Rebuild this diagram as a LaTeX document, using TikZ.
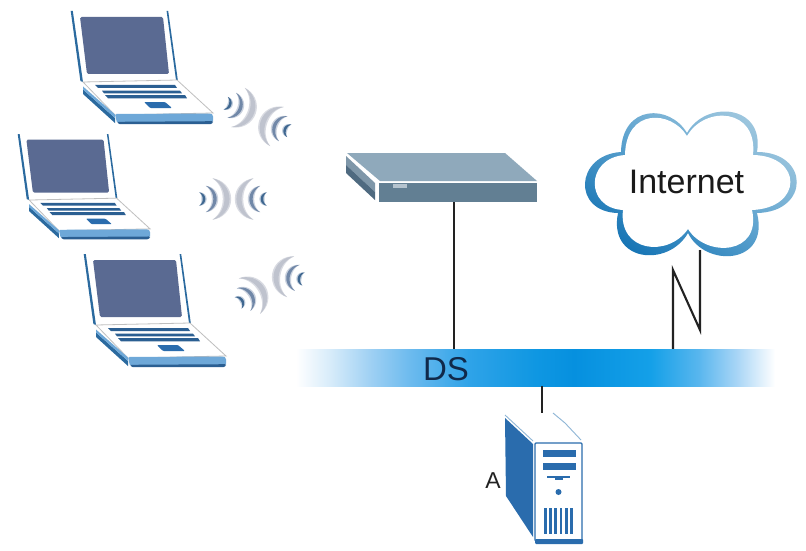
\documentclass[tikz,border=0pt]{standalone}
\usepackage{fontspec}
\setmainfont{Liberation Sans}
\definecolor{lapblue}{HTML}{2B6A9F}
\definecolor{lapkey}{HTML}{2B5F92}
\definecolor{lapscreen}{HTML}{5A6A92}
\definecolor{lapfront}{HTML}{6EA8D8}
\definecolor{srvblue}{HTML}{2A6CAD}
\definecolor{wire}{HTML}{222222}
\newcommand\hexcolor[1]{\definecolor{H#1}{HTML}{#1}}
\hexcolor{D8ECFA}\hexcolor{9CCFF3}\hexcolor{6BBAEE}\hexcolor{2FA3E8}\hexcolor{0F97E2}\hexcolor{0690DF}
\hexcolor{14A0E8}\hexcolor{58B6EE}\hexcolor{A8D5F6}\hexcolor{D9DBE2}\hexcolor{BFC3CE}\hexcolor{CCD3DF}
\hexcolor{7188A8}\hexcolor{C2CEDD}\hexcolor{3F6790}\hexcolor{10294A}\hexcolor{8FA9BB}\hexcolor{627F93}
\hexcolor{7F97A9}\hexcolor{4F6A80}\hexcolor{B4C3CE}\hexcolor{0F70B2}\hexcolor{5EA3CF}\hexcolor{7FB6D6}
\hexcolor{A6CBE0}\hexcolor{1A1A1A}\hexcolor{8FB6D6}
\pgfdeclarehorizontalshading{dsband}{100bp}{
 color(0bp)=(white); color(25bp)=(white);
 color(28.5bp)=(HD8ECFA);
 color(33bp)=(H9CCFF3);
 color(37bp)=(H6BBAEE);
 color(43bp)=(H2FA3E8);
 color(50bp)=(H0F97E2);
 color(54bp)=(H0690DF);
 color(62bp)=(H14A0E8);
 color(67bp)=(H58B6EE);
 color(71bp)=(HA8D5F6);
 color(75bp)=(white); color(100bp)=(white)}
\tikzset{
  wireline/.style={draw=wire,line width=2.4pt},
  nline/.style={draw=wire,line width=2.1pt,line join=miter},
  labeltext/.style={inner sep=0pt,text=#1},
  labeltext/.default=black,
  laptop/.pic={
    \fill[lapblue] (-.3,0) -- (1.8,0) -- (12,71) -- (9.4,70) -- cycle;
    \fill[lapblue] (95.6,0) -- (97.2,0) -- (106.8,69) -- (105,69) -- cycle;
    \fill[lapscreen,rounded corners=1.5pt] (9,6) -- (92,6) -- (98,63) -- (16,63) -- cycle;
    \filldraw[fill=white,draw=gray!50,line width=.8pt] (12,71) -- (106,69) -- (142,102) -- (44,104) -- cycle;
    \fill[lapblue] (12,78.5) -- (44,107) -- (44,112) -- (12,83) -- cycle;
    \fill[lapfront] (12,75.5) -- (44,103.5) -- (44,107) -- (12,78.5) -- cycle;
    \fill[lapfront,rounded corners=1.5pt] (44,103) -- (140,102.5) -- (142,104) -- (142,111) -- (46,112) -- cycle;
    \fill[lapkey,rounded corners=1pt] (46,110.8) -- (142,110.2) -- (142,111.5) -- (140,113.2) -- (48,113.2) -- cycle;
    \fill[lapkey] (24,74) -- (104,74) -- (106,77) -- (27,77) -- cycle;
    \fill[lapkey] (31,79.7) -- (109,79.7) -- (111,82.3) -- (33,82.3) -- cycle;
    \fill[lapkey] (34,84) -- (114,84) -- (116,87.3) -- (37,87.3) -- cycle;
    \fill[srvblue,rounded corners=1pt] (73,91) -- (94,91) -- (101,97) -- (79,97) -- cycle;
  }
}
% one tapered arc: centre x, centre y, rotation, offset, radius, half width, fill options
\newcommand\wavecrescent[7]{%
  \fill[#7] plot[domain=-70:70,samples=17,variable=\t]
    ({#1+#4*cos(#3)+(#5+#6*cos(1.2857*\t))*cos(\t+#3)},{#2+#4*sin(#3)+(#5+#6*cos(1.2857*\t))*sin(\t+#3)})
    -- plot[domain=70:-70,samples=17,variable=\t]
    ({#1+#4*cos(#3)+(#5-#6*cos(1.2857*\t))*cos(\t+#3)},{#2+#4*sin(#3)+(#5-#6*cos(1.2857*\t))*sin(\t+#3)})
    -- cycle;}
\newcommand\wavefan[3]{%
  \wavecrescent{#1}{#2}{#3}{0}{22}{4.2}{color=HD9DBE2}%
  \wavecrescent{#1}{#2}{#3}{0}{22}{2.6}{color=HBFC3CE}%
  \wavecrescent{#1}{#2}{#3}{-4}{14}{3.2}{color=HCCD3DF}%
  \wavecrescent{#1}{#2}{#3}{-4}{14}{1.7}{color=H7188A8}%
  \wavecrescent{#1}{#2}{#3}{-8}{7}{2.6}{color=HC2CEDD}%
  \wavecrescent{#1}{#2}{#3}{-8}{7}{1.3}{color=H3F6790}}
\begin{document}
\begin{tikzpicture}[x=1pt,y=-1pt]
\useasboundingbox (0,0) rectangle (806,551);
\fill[white] (0,0) rectangle (806,551);

% laptops
\pic (lapa) at (71,11) {laptop};
\pic[scale=.93] (lapb) at (18,134) {laptop};
\pic (lapc) at (84,254) {laptop};

% radio waves
\wavefan{231}{105}{19}
\wavefan{284}{129}{199}
\wavefan{205}{199}{0}
\wavefan{261}{199}{180}
\wavefan{243}{300}{-31}
\wavefan{298}{278}{190}

% distribution system band
\node[shading=dsband,minimum width=479pt,minimum height=37pt,inner sep=0pt] (band) at (535.5,367.5) {};
\node[labeltext=H10294A,font=\fontsize{33}{33}\selectfont] (dslabel) at (446,369) {DS};

% router
\fill[H8FA9BB] (347,153) -- (505,153) -- (537,181) -- (380,181) -- cycle;
\fill[H627F93] (379,183) -- (537,183) -- (537,202) -- (379,202) -- cycle;
\fill[H7F97A9] (346,156) -- (375,183) -- (375,192) -- (346,165) -- cycle;
\fill[H4F6A80] (346,165) -- (375,192) -- (375,200) -- (346,173) -- cycle;
\fill[HB4C3CE] (393,184) rectangle (407,188);
\coordinate (routerport) at (454,202);
\draw[wireline] (routerport) -- (routerport |- band.north);

% cloud
\shade[top color=HA6CBE0,bottom color=H0F70B2,middle color=H5EA3CF,shading angle=-35]
  (687,133) .. controls (670,104) and (622,104) .. (621,152)
  .. controls (575,155) and (572,212) .. (618,213)
  .. controls (608,262) and (668,268) .. (688,233)
  .. controls (705,268) and (770,265) .. (757,213)
  .. controls (810,212) and (810,152) .. (757,152)
  .. controls (765,104) and (705,100) .. (687,133) -- cycle;
\fill[white]
  (687,136) .. controls (671,110) and (626,108) .. (625,155)
  .. controls (585,158) and (585,208) .. (623,210)
  .. controls (618,252) and (668,258) .. (688,229)
  .. controls (706,258) and (762,255) .. (752,210)
  .. controls (803,208) and (803,156) .. (753,155)
  .. controls (758,108) and (705,105) .. (687,136) -- cycle;
\node[labeltext=H1A1A1A,font=\fontsize{34}{34}\selectfont] (internet) at (686.5,182) {Internet};

% link from cloud to band
\coordinate (cloudport) at (700,250);
\coordinate (kinkb) at (700,330);
\coordinate (kinka) at (673,270);
\draw[nline] (cloudport) -- (kinkb) -- (kinka) -- (kinka |- band.north);

% server
\coordinate (serverport) at (542,413);
\draw[wireline] (serverport |- band.south) -- (serverport);
\draw[H8FB6D6,line width=.9pt] (505,415) -- (533,441);
\draw[H8FB6D6,line width=.9pt] (553,413) -- (565,423) -- (581,440);
\fill[srvblue] (505,418) -- (533,444) -- (533,537) -- (506,496) -- cycle;
\filldraw[fill=white,draw=srvblue,line width=1.3pt,rounded corners=1pt] (535,443) -- (582,443) -- (582,541) -- (535,541) -- cycle;
\fill[srvblue,rounded corners=1pt] (535,539) rectangle (583,544);
\fill[srvblue] (543,450) rectangle (576,457);
\fill[srvblue] (543,463) rectangle (576,470);
\fill[srvblue] (547,476) rectangle (570,478);
\fill[srvblue] (555,478) rectangle (563,480);
\fill[srvblue] (558.5,492) circle (3);
\foreach \k in {0,...,5} {\fill[srvblue] (544+5.2*\k,508) rectangle (546.8+5.2*\k,534);}
\node[labeltext=wire,font=\fontsize{23}{23}\selectfont] (alabel) at (493,481) {A};
\end{tikzpicture}
\end{document}
